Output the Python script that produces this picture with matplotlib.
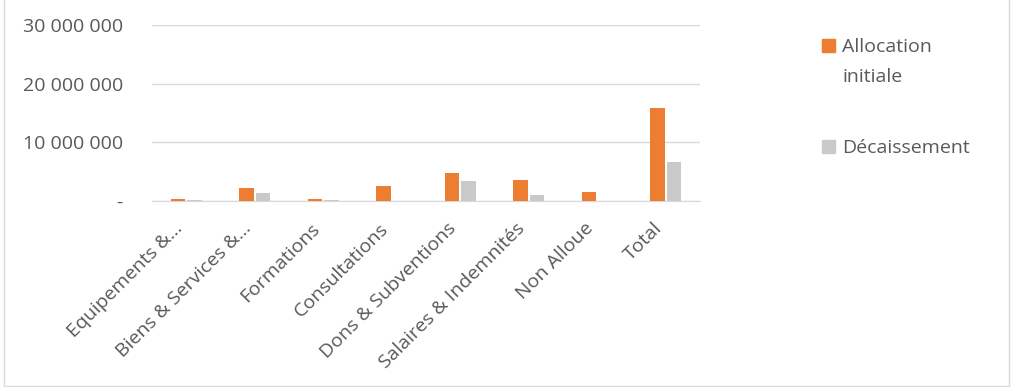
import numpy as np
import matplotlib; matplotlib.use("Agg")
import matplotlib.pyplot as plt
import matplotlib.transforms as mtransforms
from matplotlib.patches import Rectangle
from matplotlib.ticker import FuncFormatter

categories = ["Equipements &…", "Biens & Services &…", "Formations", "Consultations",
              "Dons & Subventions", "Salaires & Indemnités", "Non Alloue", "Total"]
allocation = [400000, 2150000, 400000, 2500000, 4700000, 3600000, 1500000, 15800000]
decaissement = [200000, 1300000, 200000, 0, 3450000, 1070000, 0, 6700000]
series_names = ["Allocation\ninitiale", "Décaissement"]

ORANGE = "#ED7D31"; GREY = "#C9C9C9"; TXT = "#595959"
plt.rcParams["font.family"] = ["Open Sans", "DejaVu Sans"]

fig = plt.figure(figsize=(10.13, 3.87), dpi=100)
ax = fig.add_axes([0.150, 0.481, 0.541, 0.454])
x = np.arange(len(categories)); w = 0.21
ax.bar(x - 0.12, allocation, w, color=ORANGE, zorder=3)
ax.bar(x + 0.12, decaissement, w, color=GREY, zorder=3)
ax.set_xlim(-0.5, len(categories) - 0.5); ax.set_ylim(0, 30000000)
ax.set_yticks([0, 10000000, 20000000, 30000000])
ax.yaxis.set_major_formatter(FuncFormatter(lambda v, p: "-" if v == 0 else f"{int(v):,}".replace(",", " ")))
ax.grid(axis="y", color="#D9D9D9", lw=1, zorder=0)
for s in ["top", "right", "left"]: ax.spines[s].set_visible(False)
ax.spines["bottom"].set_color("#D9D9D9")
ax.tick_params(axis="y", length=0, labelsize=14, labelcolor=TXT, pad=21)
ax.tick_params(axis="x", length=0, labelsize=14, labelcolor=TXT, pad=12)
ax.set_xticks(x); ax.set_xticklabels(categories, rotation=45, ha="right", rotation_mode="anchor")
off = mtransforms.ScaledTranslation(-13/100, -2/100, fig.dpi_scale_trans)
for lab in ax.get_xticklabels(): lab.set_transform(lab.get_transform() + off)

# legend drawn by hand to match the spacing of the original
for (name, col, ybase) in [(series_names[0], ORANGE, 52), (series_names[1], GREY, 153)]:
    fig.patches.append(Rectangle((822/1013, 1 - ybase/387), 13/1013, 13/387,
                                 transform=fig.transFigure, color=col))
    for i, line in enumerate(name.split("\n")):
        fig.text(842/1013, 1 - (ybase + 30*i)/387, line, ha="left", va="baseline",
                 fontsize=14, color=TXT)
fig.patches.append(Rectangle((0.004, 0.003), 0.992, 1.2, transform=fig.transFigure,
                             fill=False, edgecolor="#D9D9D9", lw=1))
fig.savefig("out.png", dpi=100)
